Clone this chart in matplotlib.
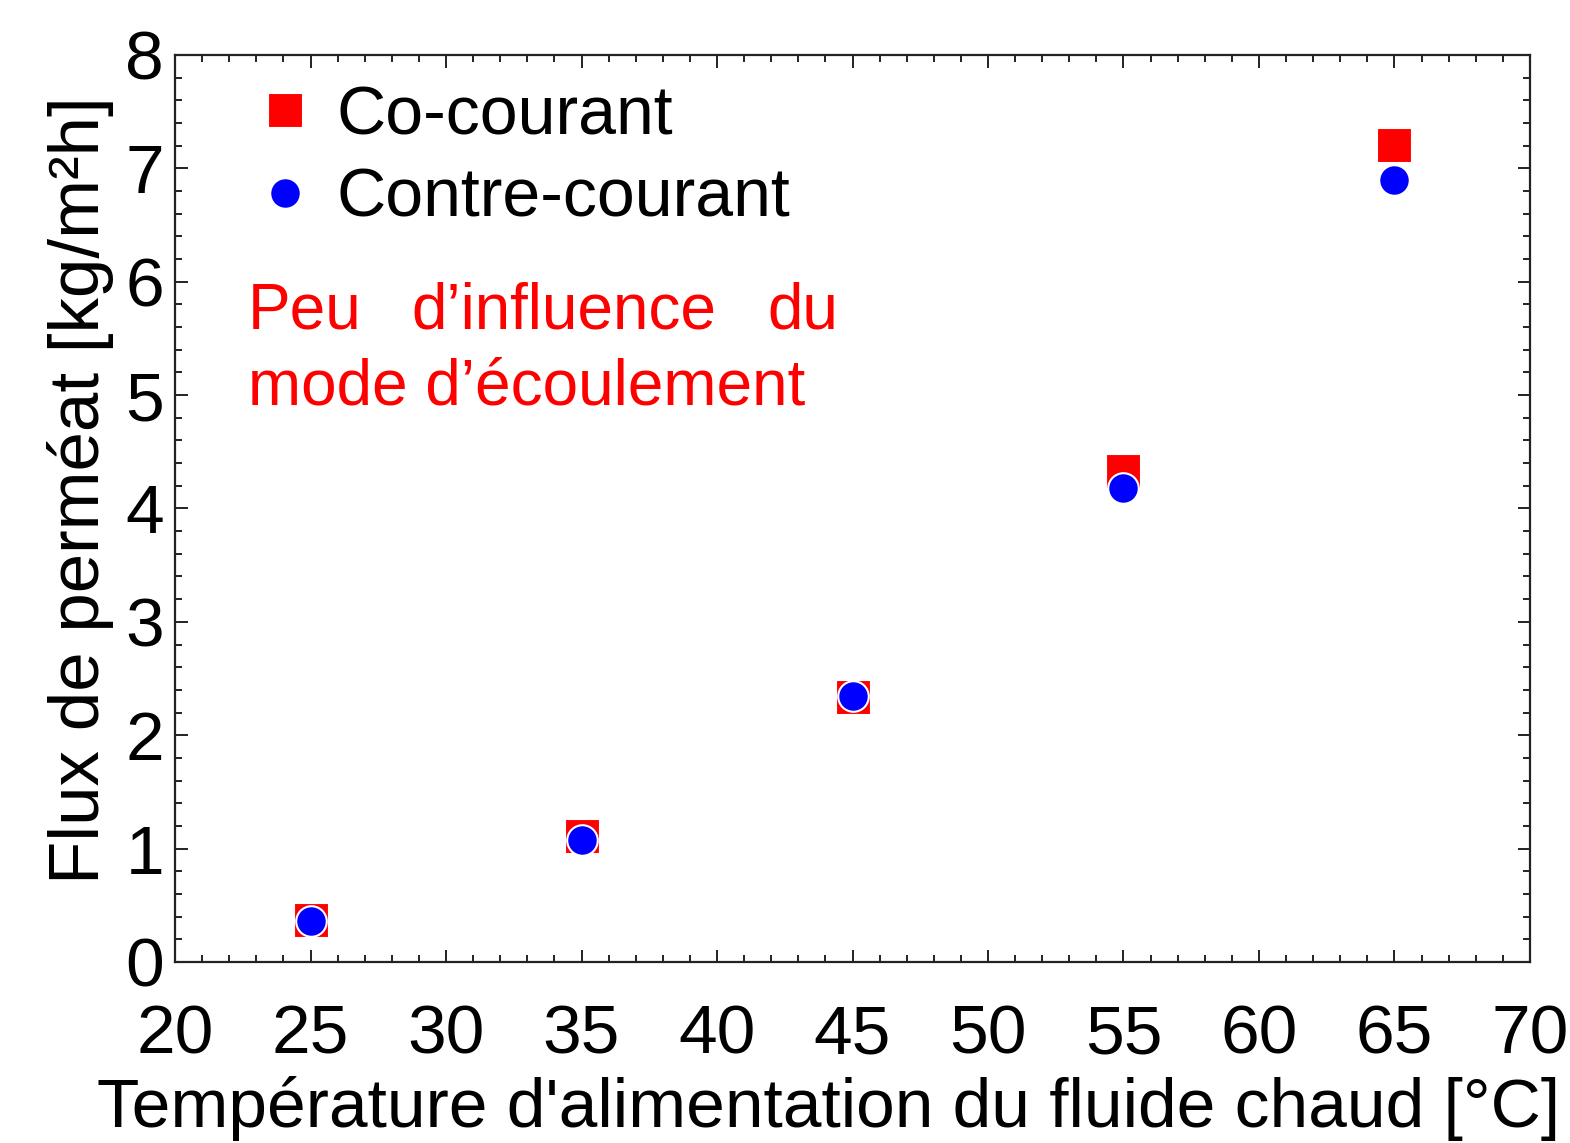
import matplotlib
matplotlib.use("Agg")
import matplotlib.pyplot as plt
from matplotlib.ticker import MultipleLocator

plt.rcParams['font.family'] = ['Liberation Sans', 'DejaVu Sans']

temps = [25, 35, 45, 55, 65]
co_courant = [0.37, 1.11, 2.34, 4.33, 7.21]
contre_courant = [0.36, 1.08, 2.35, 4.18, 6.90]

labels = ["Co-courant", "Contre-courant"]
xlabel = "Température d'alimentation du fluide chaud [°C]"
ylabel = "Flux de perméat [kg/m²h]"
note_line1 = ["Peu", "d’influence", "du"]
note_line2 = "mode d’écoulement"

fig = plt.figure(figsize=(15.7, 11.43), dpi=100)
ax = fig.add_axes([0.1115, 0.1584, 0.9745 - 0.1115, 0.9519 - 0.1584])

ax.plot(temps, co_courant, linestyle='none', marker='s', markersize=24,
        markerfacecolor='#ff0000', markeredgecolor='white', markeredgewidth=0.8,
        label=labels[0], zorder=3)
ax.plot(temps, contre_courant, linestyle='none', marker='o', markersize=22,
        markerfacecolor='#0000ff', markeredgecolor='white', markeredgewidth=1.5,
        label=labels[1], zorder=4)

ax.set_xlim(20, 70)
ax.set_ylim(0, 8)
ax.xaxis.set_major_locator(MultipleLocator(5))
ax.xaxis.set_minor_locator(MultipleLocator(1))
ax.yaxis.set_major_locator(MultipleLocator(1))
ax.yaxis.set_minor_locator(MultipleLocator(0.2))

ax.tick_params(which='both', direction='in', top=True, right=True, width=1.4, color='#222222')
ax.tick_params(which='major', length=9)
ax.tick_params(which='minor', length=5)
ax.tick_params(axis='x', which='major', labelsize=50, pad=30)
ax.tick_params(axis='y', which='major', labelsize=50, pad=8)
for s in ax.spines.values():
    s.set_linewidth(1.6)
    s.set_color('#222222')

ax.set_xlabel(xlabel, fontsize=50, labelpad=6)
ax.set_ylabel(ylabel, fontsize=51, labelpad=8)
ax.xaxis.label.set_x(0.482)
ax.yaxis.label.set_y(0.52)

leg = ax.legend(loc='upper left', bbox_to_anchor=(0.026, 1.028), frameon=False,
                fontsize=49, handlelength=0.6, handletextpad=0.45, labelspacing=0.27,
                borderpad=0.3, markerscale=1.0)

ax.text(22.69, 5.584, note_line1[0], color='#ff0000', fontsize=46, ha='left', va='baseline')
ax.text(34.35, 5.584, note_line1[1], color='#ff0000', fontsize=46, ha='center', va='baseline')
ax.text(44.46, 5.584, note_line1[2], color='#ff0000', fontsize=46, ha='right', va='baseline')
ax.text(22.69, 4.914, note_line2, color='#ff0000', fontsize=46, ha='left', va='baseline')

fig.savefig("out.png", dpi=100)
